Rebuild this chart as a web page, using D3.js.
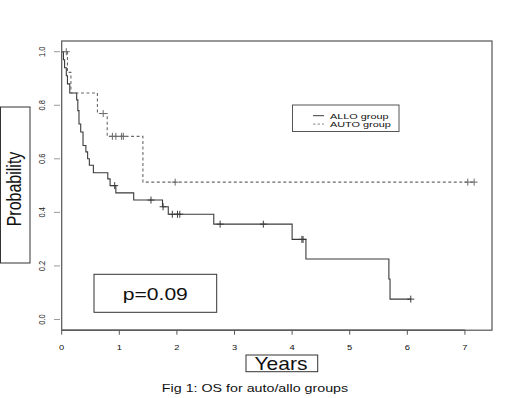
<!DOCTYPE html>
<html>
<head>
<meta charset="utf-8">
<script src="https://cdn.jsdelivr.net/npm/d3@7"></script>
<style>
	body { margin: 0; background: #fff; }
	svg { display: block; font-family: 'Liberation Sans', Arial, sans-serif; }
</style>
</head>
<body>
<svg id="chart" width="520" height="398"></svg>
<script>
// ALLO group (solid): step times and survival after each step
const alloTimes = [0, 0.03, 0.05, 0.08, 0.10, 0.14, 0.26, 0.28, 0.30, 0.33, 0.37, 0.42, 0.45, 0.48, 0.55, 0.80, 0.84, 0.94, 1.25, 1.75, 1.85, 2.64, 4.00, 4.24, 5.68, 5.70];
const alloSurv = [1.0, 0.97, 0.94, 0.91, 0.88, 0.846, 0.82, 0.78, 0.73, 0.70, 0.65, 0.626, 0.60, 0.576, 0.548, 0.525, 0.50, 0.473, 0.446, 0.421, 0.393, 0.356, 0.299, 0.226, 0.151, 0.076];
const alloCensored = [0.92, 1.55, 1.76, 1.92, 2.01, 2.05, 2.75, 3.50, 4.17, 4.19, 6.06];

// AUTO group (dashed)
const autoTimes = [0, 0.10, 0.16, 0.62, 0.79, 1.41];
const autoSurv = [1.0, 0.923, 0.846, 0.769, 0.684, 0.513];
const autoCensored = [0.08, 0.72, 0.88, 0.94, 1.04, 1.07, 1.97, 7.05, 7.16];

const xTicks = [0, 1, 2, 3, 4, 5, 6, 7];
const yTicks = [0.0, 0.2, 0.4, 0.6, 0.8, 1.0];
const legendLabels = ['ALLO group', 'AUTO group'];

const SurvivalChart = {
	svg: null,
	xScale: null, yScale: null,

	init: function() {
		const self = this;
		self.svg = d3.select('#chart');
		self.xScale = d3.scaleLinear().domain([0, 7.47]).range([61.7, 492]);
		self.yScale = d3.scaleLinear().domain([-0.04, 1.04]).range([330.2, 41]);

		self.drawAxes();
		self.drawCurve(alloTimes, alloSurv, alloCensored, '#3a3a3a', null);
		self.drawCurve(autoTimes, autoSurv, autoCensored, '#6a6a6a', '3,2.5');
		self.drawLegend();
		self.drawLabels();
	},

	// helpers

	stretchedText: function(x, y, str, size, sx, anchor) {
		return this.svg.append('text')
			.attr('transform', 'translate(' + x + ',' + y + ') scale(' + sx + ',1)')
			.attr('text-anchor', anchor || 'middle')
			.style('font-size', size + 'px')
			.style('fill', '#111')
			.text(str);
	},

	// drawing

	drawAxes: function() {
		const self = this;
		let svg = self.svg;
		let x = self.xScale, y = self.yScale;

		svg.append('rect')
			.attr('x', x(0)).attr('y', y(1.04))
			.attr('width', x(7.47) - x(0)).attr('height', y(-0.04) - y(1.04))
			.style('fill', 'none').style('stroke', '#555').style('stroke-width', 1.2);

		// x axis, R style
		svg.append('line')
			.attr('x1', x(0)).attr('x2', x(7))
			.attr('y1', y(-0.04)).attr('y2', y(-0.04))
			.style('stroke', '#555').style('stroke-width', 1.2);
		xTicks.forEach(function(t) {
			svg.append('line')
				.attr('x1', x(t)).attr('x2', x(t))
				.attr('y1', y(-0.04)).attr('y2', y(-0.04) + 4.5)
				.style('stroke', '#555');
			self.stretchedText(x(t), 349.5, t, 7.5, 1.25);
		});

		yTicks.forEach(function(v) {
			svg.append('line')
				.attr('x1', 54).attr('x2', 60)
				.attr('y1', y(v)).attr('y2', y(v))
				.style('stroke', '#999');
			svg.append('text')
				.attr('transform', 'translate(45,' + y(v) + ') scale(1.3,1) rotate(-90)')
				.attr('text-anchor', 'middle')
				.style('font-size', '7.5px')
				.style('fill', '#222')
				.text(v.toFixed(1));
		});
	},

	drawCurve: function(times, surv, censored, color, dash) {
		const self = this;
		let x = self.xScale, y = self.yScale;
		let points = times.map(function(t, i) { return [t, surv[i]]; });
		let last = censored[censored.length - 1];
		points.push([Math.max(last, times[times.length - 1]), surv[surv.length - 1]]);

		let line = d3.line()
			.x(function(d) { return x(d[0]); })
			.y(function(d) { return y(d[1]); })
			.curve(d3.curveStepAfter);

		self.svg.append('path')
			.datum(points)
			.attr('d', line)
			.style('fill', 'none')
			.style('stroke', color)
			.style('stroke-width', 1.1)
			.style('stroke-dasharray', dash);

		// survival at a censored time
		function survAt(t) {
			let s = 1;
			times.forEach(function(tt, i) { if (tt <= t) s = surv[i]; });
			return s;
		}

		self.svg.selectAll(null)
			.data(censored)
			.enter().append('path')
			.attr('d', function(t) {
				let cx = x(t), cy = y(survAt(t));
				return 'M' + (cx - 3.5) + ',' + cy + 'H' + (cx + 3.5) + 'M' + cx + ',' + (cy - 3.5) + 'V' + (cy + 3.5);
			})
			.style('fill', 'none')
			.style('stroke', color)
			.style('stroke-width', 1);
	},

	drawLegend: function() {
		const self = this;
		let svg = self.svg;

		svg.append('rect')
			.attr('x', 292.5).attr('y', 105)
			.attr('width', 106.5).attr('height', 26.5)
			.style('fill', '#fff').style('stroke', '#555');

		let styles = [ { color: '#3a3a3a', dash: null }, { color: '#8a8a8a', dash: '2.5,2' } ];
		legendLabels.forEach(function(label, i) {
			let ly = 115.7 + i * 8.4;
			svg.append('line')
				.attr('x1', 313).attr('x2', 324)
				.attr('y1', ly).attr('y2', ly)
				.style('stroke', styles[i].color)
				.style('stroke-dasharray', styles[i].dash);
			self.stretchedText(330, ly + 3, label, 8, 1.36, 'start');
		});
	},

	drawLabels: function() {
		const self = this;
		let svg = self.svg;

		// Probability box
		svg.append('rect')
			.attr('x', 0.5).attr('y', 107)
			.attr('width', 29.5).attr('height', 156)
			.style('fill', '#fff').style('stroke', '#333');
		svg.append('text')
			.attr('transform', 'translate(21,189) scale(1.3,1) rotate(-90)')
			.attr('text-anchor', 'middle')
			.style('font-size', '16px')
			.style('fill', '#111')
			.text('Probability');

		// p value box
		svg.append('rect')
			.attr('x', 94).attr('y', 274.3)
			.attr('width', 122.7).attr('height', 38)
			.style('fill', '#fff').style('stroke', '#333');
		self.stretchedText(155.3, 300, 'p=0.09', 16, 1.32);

		// Years box
		svg.append('rect')
			.attr('x', 246).attr('y', 355)
			.attr('width', 71.7).attr('height', 16.7)
			.style('fill', '#fff').style('stroke', '#333');
		self.stretchedText(281, 369.5, 'Years', 17.5, 1.2);

		self.stretchedText(255, 391.5, 'Fig 1: OS for auto/allo groups', 10.5, 1.36);
	}
};

SurvivalChart.init();
</script>
</body>
</html>
